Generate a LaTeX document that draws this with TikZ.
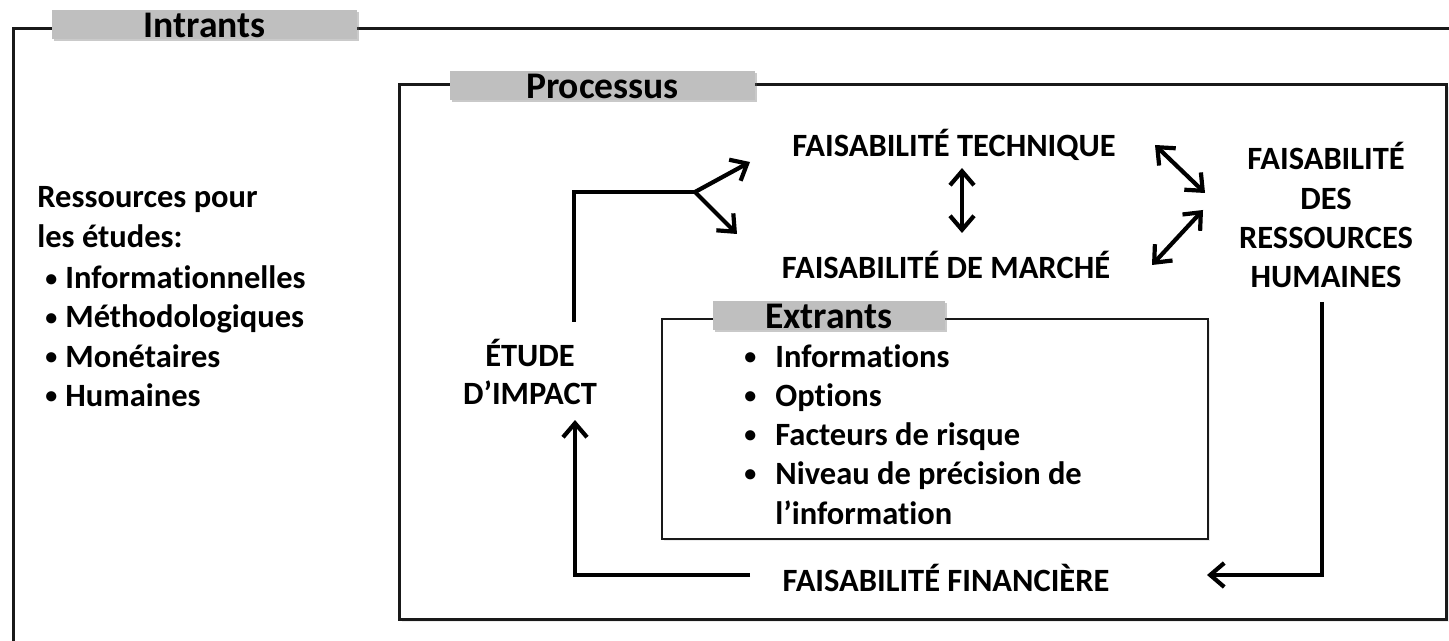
\documentclass[tikz,border=0pt]{standalone}
\usepackage{fontspec}
\setmainfont{Carlito}[Ligatures=NoCommon]
\usetikzlibrary{arrows.meta,shadows}
\definecolor{tabgray}{HTML}{BFBFBF}
\newcommand{\mybul}[1]{\makebox[#1][l]{\raisebox{1.2pt}{\fontsize{12}{12}\selectfont\textbullet}}}
\begin{document}
\begin{tikzpicture}[x=0.5pt,y=-0.5pt,
  txt/.style={font=\fontsize{16.25}{19.5}\selectfont\bfseries, inner sep=0pt, anchor=base},
  ltxt/.style={txt, anchor=base west},
  tabbox/.style={fill=tabgray, inner sep=0pt, font=\fontsize{18.8}{22}\selectfont\bfseries,
     text height=13pt, text depth=0pt, minimum height=14.5pt,
     drop shadow={opacity=0.35, shadow xshift=0.8pt, shadow yshift=-1.2pt, fill=black!60}},
  frame/.style={draw=black!90, line width=1.4pt, inner sep=0pt, anchor=north west},
  thinframe/.style={draw=black!90, line width=0.9pt, inner sep=0pt, anchor=north west,
     drop shadow={opacity=0.15, shadow xshift=1pt, shadow yshift=-1pt}},
  flow/.style={line width=2.1pt, -{Straight Barb[length=7pt,width=12pt]}},
  both/.style={line width=2.1pt, {Straight Barb[length=7pt,width=12pt]}-{Straight Barb[length=7pt,width=12pt]}}]
\useasboundingbox (0,0) rectangle (1449,641);

% frames
\node[frame, minimum width=729pt, minimum height=321.5pt] (outer) at (12,27) {};
\node[frame, fill=white, minimum width=523.5pt, minimum height=267.5pt,
      drop shadow={opacity=0.15, shadow xshift=1.2pt, shadow yshift=-1.2pt}] (proc) at (398,83) {};
\node[thinframe, fill=white, minimum width=273pt, minimum height=110pt] (extr) at (661,318) {};

% tabs
\node[tabbox, minimum width=152.5pt] (tabin) at (204.5,24.5) {Intrants};
\node[tabbox, minimum width=152.5pt] (tabproc) at (602.5,85.5) {Processus};
\node[tabbox, minimum width=116pt] (tabout) at (829,315.5) {Extrants};

% left list
\node[ltxt] (r1) at (37,208) {Ressources pour};
\node[ltxt] (r2) at (37,248) {les études:};
\node[ltxt] (r3) at (45,289) {\mybul{10pt}Informationnelles};
\node[ltxt] (r4) at (45,328) {\mybul{10pt}Méthodologiques};
\node[ltxt] (r5) at (45,367) {\mybul{10pt}Monétaires};
\node[ltxt] (r6) at (45,406) {\mybul{10pt}Humaines};

% extrants list
\node[ltxt] (e1) at (744,367) {\mybul{15.5pt}Informations};
\node[ltxt] (e2) at (744,406) {\mybul{15.5pt}Options};
\node[ltxt] (e3) at (744,445) {\mybul{15.5pt}Facteurs de risque};
\node[ltxt] (e4) at (744,484) {\mybul{15.5pt}Niveau de précision de};
\node[ltxt] (e5) at (775,524) {l’information};

% process texts
\node[txt] (tech) at (954,157) {FAISABILITÉ TECHNIQUE};
\node[txt] (marche) at (946,279) {FAISABILITÉ DE MARCHÉ};
\node[txt] (rh1) at (1326,170) {FAISABILITÉ};
\node[txt] (rh2) at (1326,210) {DES};
\node[txt] (rh3) at (1326,249) {RESSOURCES};
\node[txt] (rh4) at (1326,288) {HUMAINES};
\node[txt] (et1) at (530,366) {ÉTUDE};
\node[txt] (et2) at (530,404) {D’IMPACT};
\node[txt] (fin) at (946,591) {FAISABILITÉ FINANCIÈRE};

% connector points
\coordinate (etTop) at (574,322);
\coordinate (fork) at (695,192);
\coordinate (techIn) at (750,162);
\coordinate (marIn) at (737,234);
\coordinate (v1) at (962,168);
\coordinate (v2) at (962,233);
\coordinate (d1a) at (1155,145);
\coordinate (d1b) at (1205,193);
\coordinate (d2a) at (1203,210);
\coordinate (d2b) at (1152,265);
\coordinate (rhOut) at (1322,302);
\coordinate (finIn) at (1207,575);
\coordinate (finOut) at (750,575);
\coordinate (etIn) at (575,420);

% connectors
\draw[line width=2.1pt, line join=miter] (etTop) |- (fork);
\draw[flow] (fork) -- (techIn);
\draw[flow] (fork) -- (marIn);
\draw[both] (v1) -- (v2);
\draw[both] (d1a) -- (d1b);
\draw[both] (d2a) -- (d2b);
\draw[flow] (rhOut) |- (finIn);
\draw[flow] (finOut) -| (etIn);
\end{tikzpicture}
\end{document}
